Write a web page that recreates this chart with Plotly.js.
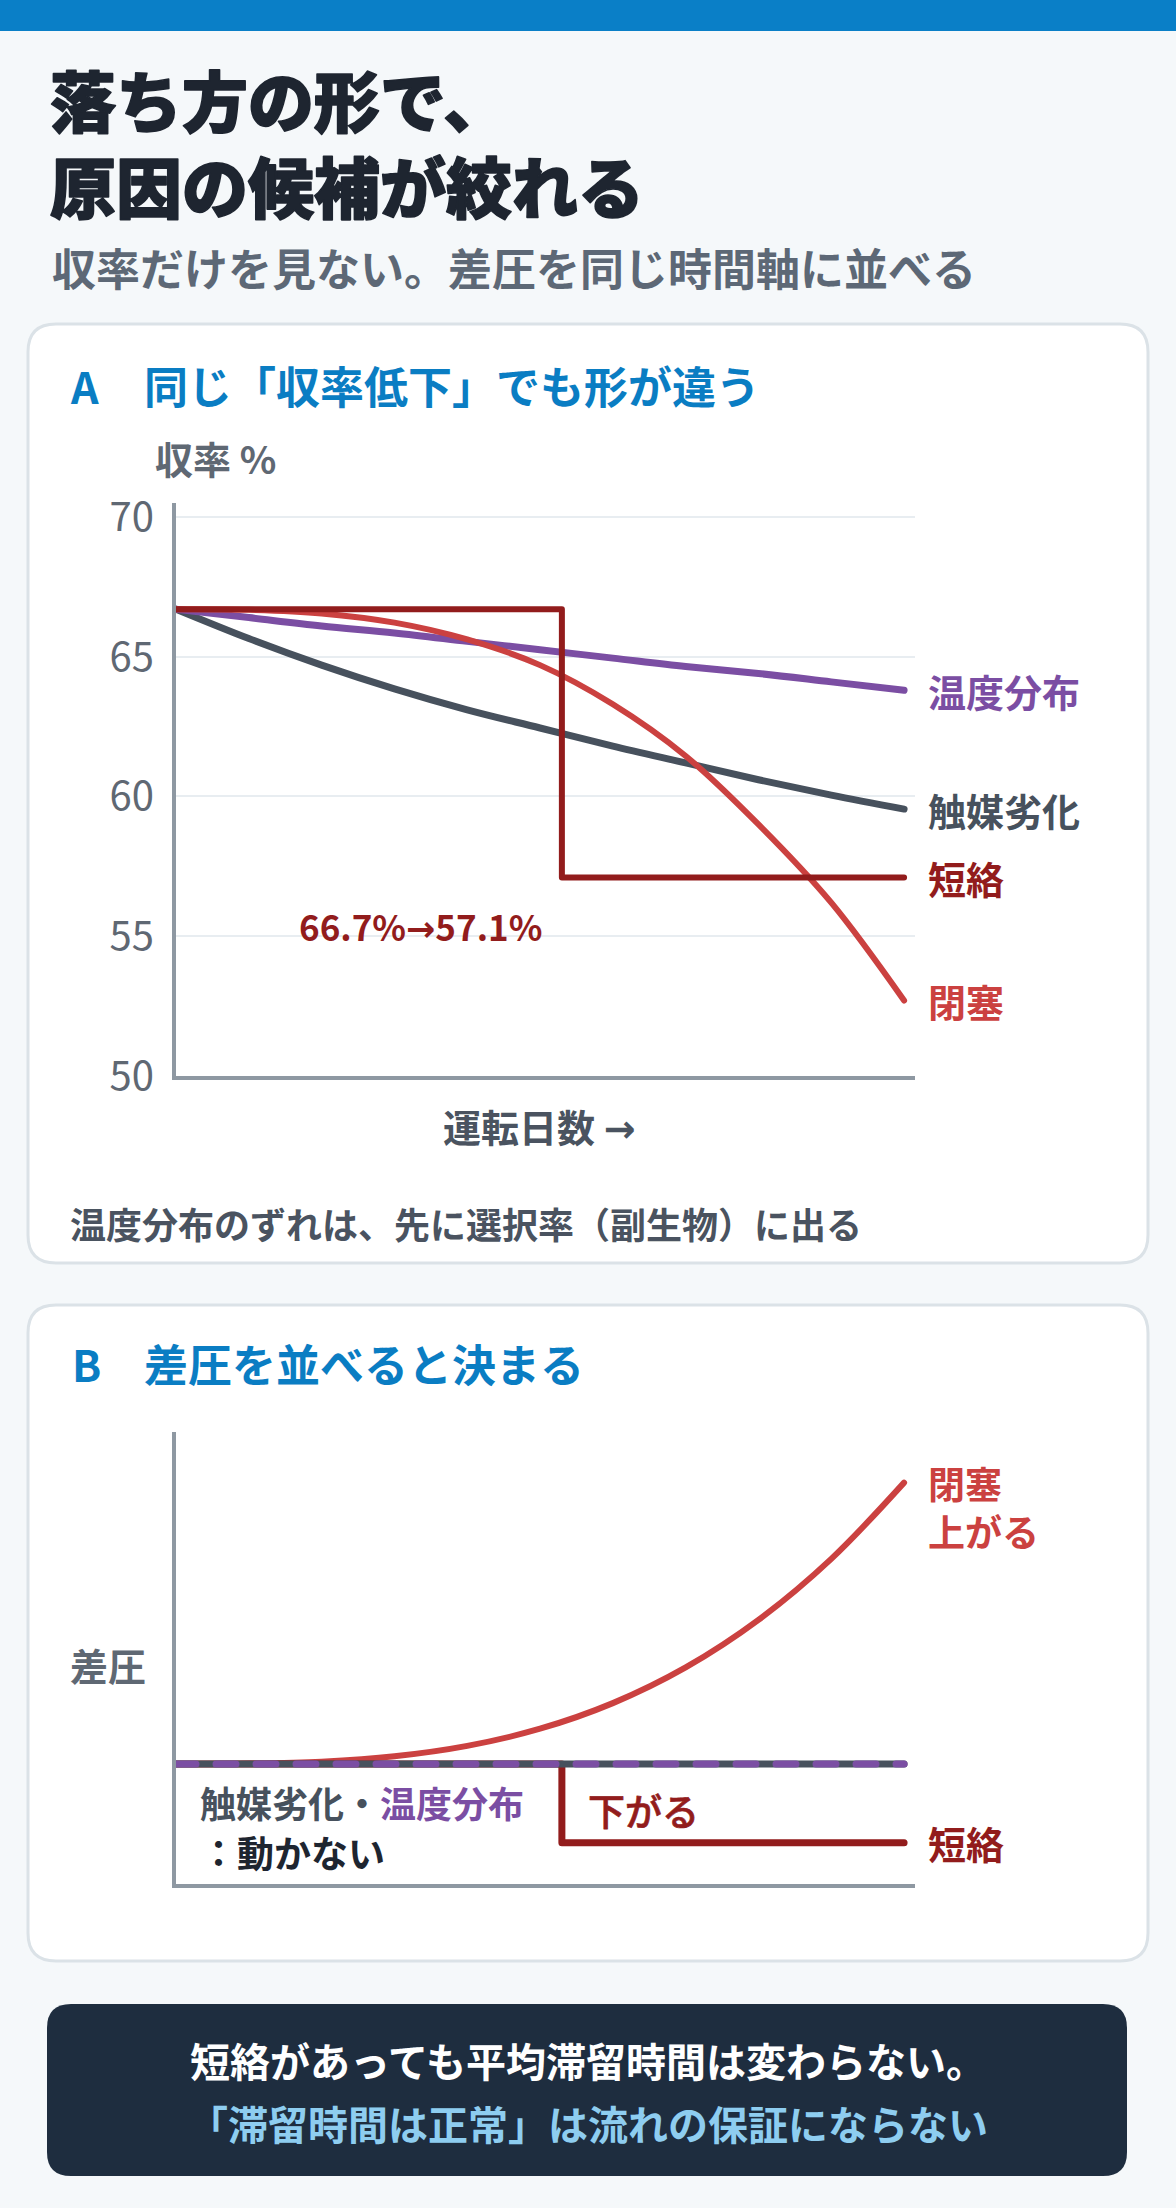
<!DOCTYPE html>
<html lang="ja">
<head>
<meta charset="utf-8">
<script src="https://cdn.plot.ly/plotly-3.0.1.min.js"></script>
<style>
  html, body { margin: 0; padding: 0; background: #f5f8fa; overflow: hidden; }
  #page { width: 1176px; height: 2208px; }
  .scatterlayer .js-line { stroke-linecap: round !important; stroke-linejoin: round !important; }
</style>
</head>
<body>
<div id="page"></div>
<script>
// --- data ---
var days = [0, 10, 20, 30, 40, 50, 60, 70, 80, 90, 100];

// A: yield % over operating days
var yieldCatalyst = [66.7, 65.65, 64.7, 63.85, 63.1, 62.45, 61.8, 61.2, 60.6, 60.05, 59.55];
var yieldTemp     = [66.7, 66.4, 66.1, 65.85, 65.55, 65.25, 64.95, 64.65, 64.4, 64.1, 63.8];
var yieldBlock    = [66.7, 66.68, 66.55, 66.22, 65.62, 64.7, 63.3, 61.45, 59.0, 56.2, 52.7];
var shortDays     = [0, 53, 53, 100];
var yieldShort    = [66.7, 66.7, 57.1, 57.1];
var yieldTicks    = [50, 55, 60, 65, 70];

// B: pressure drop (relative, start = 1)
var dpBlock       = [1.0, 1.001, 1.008, 1.027, 1.064, 1.125, 1.216, 1.343, 1.512, 1.729, 2.0];
var flatDays      = [0, 100];
var dpFlat        = [1.0, 1.0];
var dpShort       = [1.0, 1.0, 0.72, 0.72];

var W = 1176, H = 2208;
var FONT = '"Noto Sans CJK JP", "Noto Sans", sans-serif';
var ARROW = '<span style="font-family:\'DejaVu Sans\'">→</span>';

var C = {
    purple: '#7b4ea3',
    slate: '#47515d',
    red: '#cb4140',
    darkred: '#921c1c',
    blue: '#0a7dc3',
    axis: '#8e98a2',
    grey: '#5f6873',
    text: '#4a5360',
    ink: '#1e2530'
};

function px(x) { return x / W; }
function py(y) { return 1 - y / H; }

function rrect(x0, y0, x1, y1, r) {
    var X = function (v) { return px(v).toFixed(5); };
    var Y = function (v) { return py(v).toFixed(5); };
    return 'M' + X(x0 + r) + ',' + Y(y0) +
        ' L' + X(x1 - r) + ',' + Y(y0) +
        ' Q' + X(x1) + ',' + Y(y0) + ' ' + X(x1) + ',' + Y(y0 + r) +
        ' L' + X(x1) + ',' + Y(y1 - r) +
        ' Q' + X(x1) + ',' + Y(y1) + ' ' + X(x1 - r) + ',' + Y(y1) +
        ' L' + X(x0 + r) + ',' + Y(y1) +
        ' Q' + X(x0) + ',' + Y(y1) + ' ' + X(x0) + ',' + Y(y1 - r) +
        ' L' + X(x0) + ',' + Y(y0 + r) +
        ' Q' + X(x0) + ',' + Y(y0) + ' ' + X(x0 + r) + ',' + Y(y0) + ' Z';
}

// text placed in page pixels (or data values when a ref is given)
function label(text, x, y, size, color, opts) {
    opts = opts || {};
    return {
        text: text,
        xref: opts.xref || 'paper',
        yref: opts.yref || 'paper',
        x: opts.xref ? x : px(x),
        y: opts.yref ? y : py(y),
        xanchor: opts.xanchor || 'left',
        yanchor: 'middle',
        yshift: opts.yshift || 0,
        align: opts.align || 'left',
        showarrow: false,
        font: { family: FONT, size: size, color: color, weight: opts.weight || 700 }
    };
}

function line(x, y, color, width, xa, ya, extra) {
    var t = {
        x: x, y: y,
        type: 'scatter', mode: 'lines',
        xaxis: xa, yaxis: ya,
        line: { color: color, width: width, shape: 'spline', smoothing: 1 },
        hoverinfo: 'skip'
    };
    if (extra) { Object.assign(t.line, extra); }
    return t;
}

var traces = [
    // A
    line(days, yieldCatalyst, C.slate, 7, 'x', 'y'),
    line(days, yieldTemp, C.purple, 7, 'x', 'y'),
    line(days, yieldBlock, C.red, 6, 'x', 'y'),
    line(shortDays, yieldShort, C.darkred, 6, 'x', 'y', { shape: 'linear' }),
    // B
    line(days, dpBlock, C.red, 6, 'x2', 'y2'),
    line(shortDays, dpShort, C.darkred, 7, 'x2', 'y2', { shape: 'linear' }),
    line(flatDays, dpFlat, C.slate, 7, 'x2', 'y2', { shape: 'linear' }),
    line(flatDays, dpFlat, C.purple, 7, 'x2', 'y2', { shape: 'linear', dash: '20px,20px' })
];

var xDomain = [px(176), px(915)];

var titleAnn = label('落ち方の形で、<br>原因の候補が絞れる', 48, 140.5, 66, C.ink, { weight: 900 });
var downAnn = label('下がる', 586, 1810, 37, C.darkred, { weight: 500 });

var annotations = [
    titleAnn,
    label('収率だけを見ない。差圧を同じ時間軸に並べる', 50, 267, 44, '#5d6876'),

    // card A
    label('A', 68, 385, 43, C.blue),
    label('同じ「収率低下」でも形が違う', 142, 385, 44, C.blue),
    label('収率 %', 153, 458, 38, C.grey),
    label('温度分布', 926, yieldTemp[10], 38, C.purple, { yref: 'y' }),
    label('触媒劣化', 926, yieldCatalyst[10], 38, C.slate, { yref: 'y' }),
    label('短絡', 926, yieldShort[3], 38, C.darkred, { yref: 'y' }),
    label('閉塞', 926, yieldBlock[10], 38, C.red, { yref: 'y' }),
    label(yieldShort[0] + '%' + ARROW + yieldShort[3] + '%', 33.6, 55.4, 35, C.darkred, { xref: 'x', yref: 'y', xanchor: 'center' }),
    label('運転日数 ' + ARROW, 539, 1125, 38, C.text, { xanchor: 'center' }),
    label('温度分布のずれは、先に選択率（副生物）に出る', 68, 1223, 36, C.text),

    // card B
    label('B', 70, 1363, 43, C.blue),
    label('差圧を並べると決まる', 142, 1363, 44, C.blue),
    label('差圧', 68, 1664, 38, C.grey),
    label('閉塞<br>上がる', 926, dpBlock[10], 37, C.red, { yref: 'y2', yshift: -24 }),
    label('短絡', 926, dpShort[3], 38, C.darkred, { yref: 'y2' }),
    downAnn,
    label('触媒劣化・<span style="color:' + C.purple + '">温度分布</span>', 198, 1802, 36, C.slate),
    label('：動かない', 198, 1852, 37, C.ink),

    // bottom box
    label('短絡があっても平均滞留時間は変わらない。', 588, 2060, 40, '#ffffff', { xanchor: 'center' }),
    label('「滞留時間は正常」は流れの保証にならない', 588, 2123, 40, '#8ecdf0', { xanchor: 'center' })
];

var shapes = [
    { type: 'rect', xref: 'paper', yref: 'paper', x0: 0, x1: 1, y0: py(31), y1: 1,
      fillcolor: '#0a7fc7', line: { width: 0 }, layer: 'below' },
    { type: 'path', xref: 'paper', yref: 'paper', path: rrect(28, 324, 1148, 1263, 28),
      fillcolor: '#ffffff', line: { color: '#dbe2e7', width: 3 }, layer: 'below' },
    { type: 'path', xref: 'paper', yref: 'paper', path: rrect(28, 1305, 1148, 1961, 28),
      fillcolor: '#ffffff', line: { color: '#dbe2e7', width: 3 }, layer: 'below' },
    { type: 'path', xref: 'paper', yref: 'paper', path: rrect(47, 2004, 1127, 2176, 24),
      fillcolor: '#1e2d3f', line: { width: 0 }, layer: 'below' }
];

var baseAxis = {
    showline: true, linecolor: C.axis, linewidth: 4,
    zeroline: false, ticks: '', fixedrange: true
};

var layout = {
    width: W, height: H,
    margin: { l: 0, r: 0, t: 0, b: 0 },
    paper_bgcolor: '#f5f8fa',
    plot_bgcolor: 'rgba(0,0,0,0)',
    showlegend: false,
    xaxis: Object.assign({}, baseAxis, {
        domain: xDomain, anchor: 'y', range: [0, 101.5],
        showgrid: false, showticklabels: false
    }),
    yaxis: Object.assign({}, baseAxis, {
        domain: [py(1076), py(503)], anchor: 'x', range: [50, 70.5],
        tickvals: yieldTicks, showgrid: true, gridcolor: '#e8edf1', gridwidth: 2,
        ticklabelstandoff: 10,
        tickfont: { family: FONT, size: 40, color: C.grey }
    }),
    xaxis2: Object.assign({}, baseAxis, {
        domain: xDomain, anchor: 'y2', range: [0, 101.5],
        showgrid: false, showticklabels: false
    }),
    yaxis2: Object.assign({}, baseAxis, {
        domain: [py(1884), py(1432)], anchor: 'x2', range: [0.573, 2.18],
        showgrid: false, showticklabels: false
    }),
    shapes: shapes,
    annotations: annotations
};

// thicken a few texts that are heavier in the reference than the installed weights
function thicken(ann, color, width) {
    var idx = annotations.indexOf(ann);
    document.querySelectorAll('.annotation[data-index="' + idx + '"] text').forEach(function (t) {
        t.style.stroke = color;
        t.style.strokeWidth = width;
        t.style.strokeLinejoin = 'round';
    });
}

Plotly.newPlot('page', traces, layout, { displayModeBar: false, staticPlot: true }).then(function () {
    thicken(titleAnn, C.ink, '1.6px');
    thicken(downAnn, C.darkred, '0.7px');
});
</script>
</body>
</html>
